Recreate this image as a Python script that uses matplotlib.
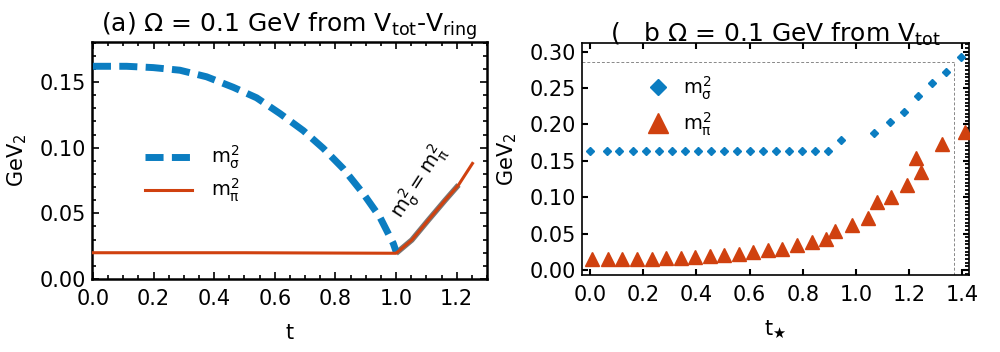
import matplotlib
matplotlib.use("Agg")
import matplotlib.pyplot as plt
from matplotlib.lines import Line2D
from matplotlib.ticker import MultipleLocator

plt.rcParams['font.family'] = ['DejaVu Sans']
plt.rcParams['mathtext.fontset'] = 'custom'
plt.rcParams['mathtext.rm'] = 'DejaVu Sans'
plt.rcParams['mathtext.it'] = 'DejaVu Sans'
plt.rcParams['mathtext.bf'] = 'DejaVu Sans:bold'

BLUE = '#0b7dc1'
RED = '#d0410f'

# ---- panel (a) data ----
t_sigma_a = [0.0, 0.111, 0.199, 0.287, 0.375, 0.463, 0.540, 0.617, 0.694, 0.760, 0.826, 0.892, 0.947, 0.991, 1.0]
m_sigma_a = [0.162, 0.162, 0.161, 0.159, 0.154, 0.146, 0.138, 0.126, 0.113, 0.0995, 0.084, 0.065, 0.047, 0.027, 0.021]
t_pi_a = [0.0, 0.5, 1.0, 1.052, 1.107, 1.162, 1.206, 1.252]
m_pi_a = [0.020, 0.020, 0.0196, 0.0297, 0.045, 0.060, 0.0716, 0.088]
t_equal_a = [1.0, 1.052, 1.107, 1.162, 1.206]
m_equal_a = [0.0196, 0.0297, 0.045, 0.060, 0.0716]

# ---- panel (b) data ----
t_sigma_b = [0.000, 0.063, 0.110, 0.160, 0.209, 0.258, 0.307, 0.356, 0.405, 0.454, 0.503, 0.551,
             0.602, 0.649, 0.698, 0.747, 0.796, 0.846, 0.896, 0.942, 1.069, 1.128, 1.182, 1.232,
             1.287, 1.337, 1.394]
m_sigma_b = [0.164] * 19 + [0.179, 0.188, 0.204, 0.217, 0.239, 0.257, 0.272, 0.293]
t_pi_b = [0.006, 0.069, 0.122, 0.175, 0.232, 0.286, 0.341, 0.395, 0.451, 0.504, 0.560, 0.614,
          0.668, 0.723, 0.777, 0.833, 0.886, 0.922, 0.986, 1.044, 1.078, 1.130, 1.193, 1.226,
          1.244, 1.322, 1.41]
m_pi_b = [0.015, 0.015, 0.015, 0.015, 0.015, 0.016, 0.016, 0.0175, 0.019, 0.020, 0.022, 0.024,
          0.027, 0.029, 0.034, 0.038, 0.043, 0.053, 0.062, 0.071, 0.093, 0.100, 0.117, 0.154,
          0.134, 0.173, 0.189]
ref_t_b = 1.368
ref_m_b = 0.286

xticks_a = [0.0, 0.2, 0.4, 0.6, 0.8, 1.0, 1.2]
yticks_a = [0.00, 0.05, 0.10, 0.15]
xticks_b = [0.0, 0.2, 0.4, 0.6, 0.8, 1.0, 1.2, 1.4]
yticks_b = [0.00, 0.05, 0.10, 0.15, 0.20, 0.25, 0.30]

TICK_FS = 15
fig = plt.figure(figsize=(10, 3.52), dpi=100)

# ================= panel (a) =================
ax = fig.add_axes([0.092, 0.2074, 0.395, 0.6733])
ax.plot(t_equal_a, m_equal_a, color='#777777', lw=4.0, zorder=2, solid_capstyle='butt')
ax.plot(t_sigma_a, m_sigma_a, color=BLUE, lw=5, dashes=(2.6, 1.2), zorder=3)
ax.plot(t_pi_a, m_pi_a, color=RED, lw=2.2, zorder=4)
ax.set_xlim(-0.003, 1.30)
ax.set_ylim(0, 0.1805)
ax.set_xticks(xticks_a)
ax.set_xticklabels([f'{v:.1f}' for v in xticks_a])
ax.set_yticks(yticks_a)
ax.set_yticklabels([f'{v:.2f}' for v in yticks_a])
ax.xaxis.set_minor_locator(MultipleLocator(0.05))
ax.yaxis.set_minor_locator(MultipleLocator(0.01))
ax.tick_params(which='both', direction='in', top=True, right=True, labelsize=TICK_FS, width=1.2)
ax.tick_params(which='major', length=5)
ax.tick_params(axis='x', which='major', pad=7)
ax.tick_params(axis='y', which='major', pad=4)
ax.tick_params(which='minor', length=3)
for s in ax.spines.values():
    s.set_linewidth(1.8)
ax.set_xlabel('t', fontsize=15, labelpad=10)
ax.set_ylabel(r'GeV$_2$', fontsize=15, labelpad=8)
ax.set_title(r'(a) Ω = 0.1 GeV from V$_{\rm tot}$-V$_{\rm ring}$', fontsize=18, pad=1)
ax.text(1.075, 0.074, r'$m^{2}_{\sigma} = m^{2}_{\pi}$', rotation=57, fontsize=14,
        ha='center', va='center')
h1 = Line2D([], [], color=BLUE, lw=5, dashes=(2.6, 1.2))
h2 = Line2D([], [], color=RED, lw=2.2)
ax.legend([h1, h2], [r'$m^2_\sigma$', r'$m^2_\pi$'], loc='upper left',
          bbox_to_anchor=(0.09, 0.645), frameon=False, fontsize=14, handlelength=2.4,
          handletextpad=1.0, labelspacing=0.3)

# ================= panel (b) =================
bx = fig.add_axes([0.582, 0.2188, 0.387, 0.6590])
bx.plot([-0.03, ref_t_b], [ref_m_b, ref_m_b], color='#888888', lw=0.7, ls=(0, (3, 2)), zorder=1)
bx.plot([ref_t_b, ref_t_b], [-0.007, ref_m_b], color='#888888', lw=0.7, ls=(0, (3, 2)), zorder=1)
bx.plot(t_sigma_b, m_sigma_b, ls='none', marker='D', ms=4.2, color=BLUE, zorder=3)
bx.plot(t_pi_b, m_pi_b, ls='none', marker='^', ms=10, color=RED, zorder=3)
bx.set_xlim(-0.030, 1.425)
bx.set_ylim(-0.007, 0.312)
bx.set_xticks(xticks_b)
bx.set_xticklabels([f'{v:.1f}' for v in xticks_b])
bx.set_yticks(yticks_b)
bx.set_yticklabels([f'{v:.2f}' for v in yticks_b])
bx.yaxis.set_minor_locator(MultipleLocator(0.005))
bx.tick_params(which='major', direction='in', top=True, right=True, labelsize=TICK_FS,
               length=4, width=1.5)
bx.tick_params(axis='x', which='major', pad=7)
bx.tick_params(axis='y', which='major', pad=4)
bx.tick_params(which='minor', direction='in', left=False, right=True, length=3, width=1.3)
for s in bx.spines.values():
    s.set_linewidth(1.2)
bx.set_xlabel(r'$t_{\bigstar}$', fontsize=15, labelpad=10)
bx.set_ylabel(r'GeV$_2$', fontsize=15, labelpad=8)
bx.set_title(r'(   b Ω = 0.1 GeV from V$_{\rm tot}$', fontsize=18, pad=1)
g1 = Line2D([], [], ls='none', marker='D', ms=8, color=BLUE)
g2 = Line2D([], [], ls='none', marker='^', ms=15, color=RED)
bx.legend([g1, g2], [r'$m^2_\sigma$', r'$m^2_\pi$'], loc='upper left',
          bbox_to_anchor=(0.10, 0.94), frameon=False, fontsize=14, handletextpad=0.3,
          labelspacing=0.45)

fig.savefig('out.png', dpi=100)
